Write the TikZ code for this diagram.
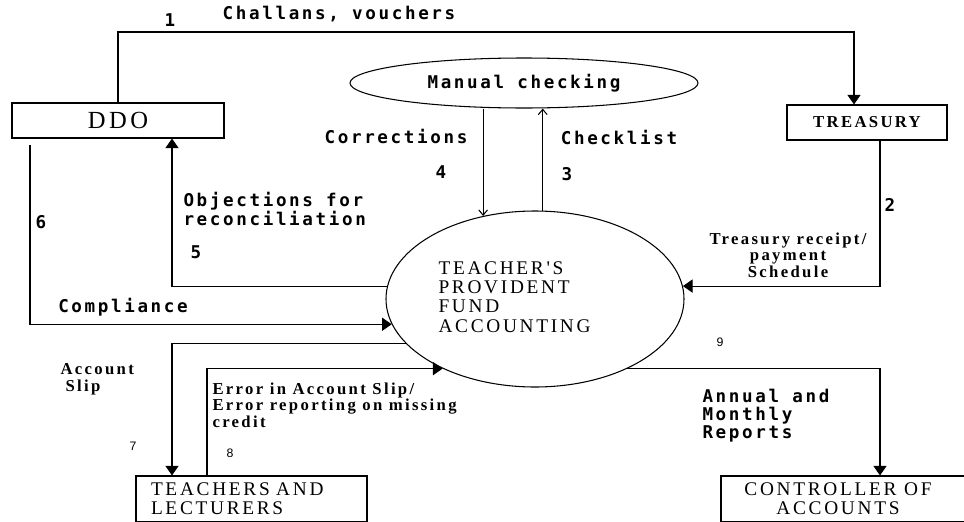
\documentclass[tikz,border=0pt]{standalone}
\usepackage{fontspec}
\setmainfont{Liberation Serif}
\newfontfamily\flowfont[LetterSpace=15]{DejaVu Sans Mono}
\newfontfamily\boxfont[LetterSpace=14]{Liberation Serif}
\newfontfamily\numfont{Liberation Sans}
\usetikzlibrary{shapes.geometric,arrows.meta}

\begin{document}
\begin{tikzpicture}[x=0.02cm,y=-0.02cm,line width=0.6pt]
  % Every length below is in pixels of the original sketch
  \def\px{0.02cm}
  \tikzset{
    box/.style={draw,rectangle,inner sep=0pt},
    bubble/.style={draw,ellipse,inner sep=0pt},
    flow/.style={-{Triangle[width=7.5pt,length=5.5pt]}},
    check/.style={-{Straight Barb[width=5pt,length=3pt]}},
    flowtext/.style={font=\flowfont\bfseries\fontsize{10}{10.2}\selectfont,inner sep=0pt,align=left},
    boxtext/.style={font=\boxfont\fontsize{11}{11}\selectfont,inner sep=0pt},
    smalltext/.style={font=\boxfont\bfseries\fontsize{9.5}{9.5}\selectfont,inner sep=0pt},
    numtext/.style={font=\numfont\fontsize{7}{8}\selectfont,inner sep=0pt}
  }
  \useasboundingbox (0,0) rectangle (964,521);

  % External entities
  \node[box,font=\boxfont\fontsize{14}{14}\selectfont,minimum width=212*\px,minimum height=35*\px] (ddo) at (118,120.5) {DDO};
  \node[box,smalltext,minimum width=160*\px,minimum height=35*\px] (treasury) at (867,122.5) {TREASURY};
  \node[box,boxtext,align=left,text width=201*\px,inner xsep=15*\px,minimum height=46*\px] (teachers) at (251.5,499) {TEACHERS AND\\LECTURERS};
  \node[box,minimum width=270*\px,minimum height=46*\px] (controller) at (856,499) {};
  \node[boxtext,align=center] (ctrltext) at (838,499) {CONTROLLER OF\\ACCOUNTS};

  % Processes
  \node[bubble,flowtext,minimum width=348*\px,minimum height=50*\px] (manual) at (524,83) {Manual checking};
  \node[bubble,minimum width=298*\px,minimum height=176*\px] (tpf) at (535,299) {};
  \node[boxtext,align=left,anchor=west] (tpftext) at (438,297) {TEACHER'S\\PROVIDENT\\FUND\\ACCOUNTING};

  % Bend points of the flows
  \coordinate (c1a) at (118,32);
  \coordinate (c1b) at (854,32);
  \coordinate (c2) at (880,0);
  \coordinate (c5) at (172,0);
  \coordinate (c6) at (30,145);
  \coordinate (c7) at (172,0);
  \coordinate (c8) at (207,0);
  \coordinate (c9) at (880,0);

  % Data flows
  \draw[flow] (ddo.north -| c1a) -- (c1a) -- (c1b) -- (treasury.north -| c1b);
  \draw[flow] (treasury.south -| c2) |- (tpf.5);
  \draw[check] (tpf.85) -- (tpf.85 |- manual.south);
  \draw[check] (tpf.122 |- manual.south) -- (tpf.122);
  \draw[flow] (tpf.175) -| (ddo.south -| c5);
  \draw[flow] (c6) |- (tpf.190);
  \draw[flow] (tpf.199.5) -| (teachers.north -| c7);
  \draw[flow] (teachers.north -| c8) |- (tpf.217);
  \draw[flow] (tpf.323) -| (controller.north -| c9);

  % Flow labels
  \node[flowtext] (num1) at (170,20) {1};
  \node[flowtext] (challans) at (339,14) {Challans, vouchers};
  \node[flowtext] (corrections) at (396,136) {Corrections};
  \node[flowtext] (num4) at (441,172) {4};
  \node[flowtext] (checklist) at (619,137) {Checklist};
  \node[flowtext] (num3) at (567,174) {3};
  \node[flowtext] (num2) at (890,205) {2};
  \node[smalltext,align=center] (receipt) at (788,255) {Treasury receipt/\\payment\\Schedule};
  \node[flowtext,anchor=west] (objections) at (183,209) {Objections for\\reconciliation};
  \node[flowtext] (num5) at (196,252) {5};
  \node[flowtext] (num6) at (41,222) {6};
  \node[flowtext] (compliance) at (123,307) {Compliance};
  \node[smalltext,align=left,anchor=west] (slip) at (60,379) {Account\\\hspace*{0.1cm}Slip};
  \node[smalltext,align=left,anchor=west] (error) at (212,405) {Error in Account Slip/\\Error reporting on missing\\credit};
  \node[numtext] (num7) at (133,446) {7};
  \node[numtext] (num8) at (230,453) {8};
  \node[numtext] (num9) at (720,342) {9};
  \node[flowtext,anchor=west] (reports) at (702,416) {Annual and\\Monthly\\Reports};
\end{tikzpicture}
\end{document}
